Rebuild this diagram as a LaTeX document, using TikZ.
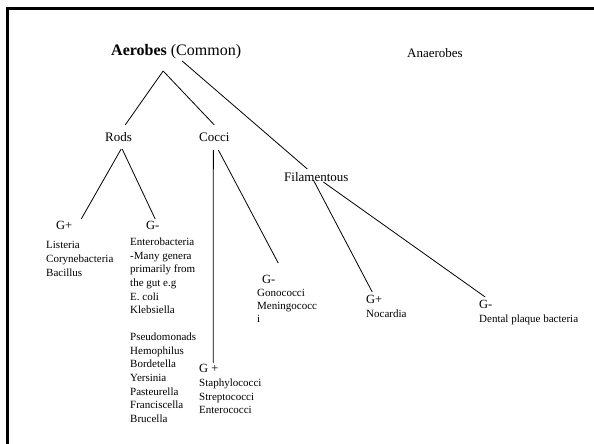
\documentclass[tikz,border=0pt]{standalone}
\usepackage{fontspec}
\setmainfont{Liberation Serif}
\begin{document}
\begin{tikzpicture}[x=1pt,y=-1pt,
  lbl/.style={inner sep=0pt,anchor=base west},
  big/.style={lbl,font=\fontsize{16}{19}\selectfont},
  mid/.style={lbl,font=\fontsize{13}{15}\selectfont},
  gram/.style={lbl,font=\fontsize{12.5}{15}\selectfont},
  small/.style={lbl,font=\fontsize{11}{13.7}\selectfont},
  blk/.style={inner sep=0pt,anchor=north west,align=left,font=\fontsize{11}{13.7}\selectfont},
  conn/.style={line width=0.8pt}]
\useasboundingbox (0,0) rectangle (594,444);
\draw[line width=2.6pt] (7.5,444) -- (7.5,8.5) -- (594,8.5);

\node[big] (aer) at (111,56) {\textbf{Aerobes} (Common)};
\node[mid] (ana) at (407,57) {Anaerobes};
\node[mid] (rods) at (105,141) {Rods};
\node[mid] (cocci) at (199,141) {Cocci};
\node[mid] (fil) at (284,181) {Filamentous};

\node[gram] (gp1) at (56,229) {G+};
\node[blk] (l1) at (46,241.5) {Listeria\\Corynebacteria\\Bacillus};

\node[gram] (gm1) at (146,229) {G-};
\node[blk] (l2) at (130,237.5) {Enterobacteria\\-Many genera\\primarily from\\the gut e.g\\E. coli\\Klebsiella};
\node[blk] (l2b) at (130,332.5) {Pseudomonads\\Hemophilus\\Bordetella\\Yersinia\\Pasteurella\\Franciscella\\Brucella};

\node[gram] (gp2) at (199,372) {G +};
\node[blk] (l3) at (199,378.5) {Staphylococci\\Streptococci\\Enterococci};

\node[gram] (gm2) at (262,283) {G-};
\node[blk,font=\fontsize{11}{13}\selectfont] (l4) at (257,289.5) {Gonococci\\Meningococc\\i};

\node[gram] (gp3) at (366,303) {G+};
\node[small] (l5) at (366,317) {Nocardia};

\node[gram] (gm3) at (479,308) {G-};
\node[small] (l6) at (479,322) {Dental plaque bacteria};

\draw[conn] ([shift={(-13,15)}]aer.base) -- ([shift={(6.6,-16)}]rods.base);
\draw[conn] ([shift={(-13,15)}]aer.base) -- ([shift={(0,-16)}]cocci.base);
\draw[conn] ([shift={(6,5)}]aer.base) -- ([shift={(-9,-12)}]fil.base);
\draw[conn] ([shift={(2.6,8)}]rods.base) -- ([shift={(17,-10)}]gp1.base);
\draw[conn] ([shift={(3.6,8)}]rods.base) -- ([shift={(2.4,-10)}]gm1.base);
\draw[conn] ([shift={(-1,9)}]cocci.base) -- ([shift={(4.4,-9)}]gp2.base);
\draw[conn] ([shift={(4,9)}]cocci.base) -- ([shift={(9.4,-20)}]gm2.base);
\draw[conn] ([shift={(-3,-1)}]fil.base) -- ([shift={(-2,-11)}]gp3.base);
\draw[conn] ([shift={(7,1)}]fil.base) -- ([shift={(-0.6,-11)}]gm3.base);
\end{tikzpicture}
\end{document}
